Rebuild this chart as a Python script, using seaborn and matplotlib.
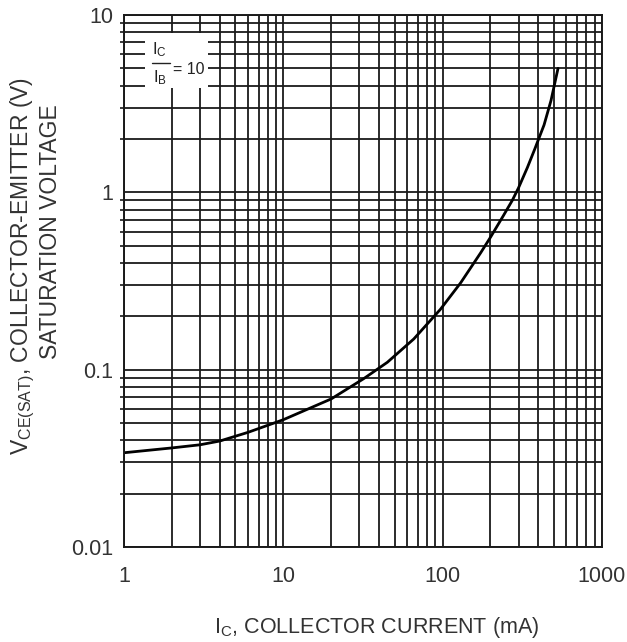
import matplotlib
matplotlib.use("Agg")
import matplotlib.pyplot as plt
import seaborn as sns

# collector current (mA) and Vce(sat) (V)
ic_ma = [1, 2, 3, 4, 6, 10, 20, 32, 45, 66, 97, 130, 173, 200, 240, 274,
         300, 341, 380, 434, 480, 531]
vce_sat = [0.034, 0.0362, 0.0377, 0.0396, 0.0443, 0.0522, 0.0684, 0.089, 0.11,
           0.149, 0.219, 0.309, 0.454, 0.558, 0.734, 0.90, 1.06, 1.38, 1.76,
           2.40, 3.3, 5.0]

x_ticks = [1, 10, 100, 1000]
x_labels = ["1", "10", "100", "1000"]
y_ticks = [0.01, 0.1, 1, 10]
y_labels = ["0.01", "0.1", "1", "10"]

sns.set_style("white")
plt.rcParams['font.family'] = ['Liberation Sans', 'DejaVu Sans']
plt.rcParams['mathtext.fontset'] = 'custom'
plt.rcParams['mathtext.rm'] = 'Liberation Sans'

fig = plt.figure(figsize=(6.27, 6.42), dpi=100)
ax = fig.add_axes([0.1978, 0.148, 0.762, 0.8286])

grid_kw = dict(color="#1a1a1a", linewidth=1.3)
ax.set_xscale("log")
ax.set_yscale("log")
ax.set_xlim(1, 1000)
ax.set_ylim(0.01, 10)
ax.grid(True, which="both", **grid_kw)

sns.lineplot(x=ic_ma, y=vce_sat, color="black", linewidth=2.0, ax=ax)

ax.set_xticks(x_ticks)
ax.set_xticklabels(x_labels)
ax.set_yticks(y_ticks)
ax.set_yticklabels(y_labels)
ax.tick_params(axis="both", which="major", labelsize=15.5, length=0, colors="#333333")
ax.tick_params(axis="x", which="major", pad=14)
ax.tick_params(axis="y", which="major", pad=8)
ax.tick_params(axis="x", which="minor", length=0)
ax.tick_params(axis="y", which="minor", length=3, width=1.2, direction="out",
               left=True, color="#1a1a1a")
ax.yaxis.set_minor_formatter(plt.NullFormatter())
ax.xaxis.set_minor_formatter(plt.NullFormatter())

for s in ax.spines.values():
    s.set_color("#1a1a1a")
    s.set_linewidth(1.4)

# Ic/Ib = 10 box
box = plt.Rectangle((0.044, 0.863), 0.132, 0.103, transform=ax.transAxes,
                    facecolor="white", edgecolor="none", zorder=3)
ax.add_patch(box)
ax.text(0.075, 0.934, r"$\mathregular{I_C}$", transform=ax.transAxes, fontsize=12,
        ha="center", va="center", zorder=4, color="#222222")
ax.text(0.075, 0.882, r"$\mathregular{I_B}$", transform=ax.transAxes, fontsize=12,
        ha="center", va="center", zorder=4, color="#222222")
ax.plot([0.058, 0.097], [0.910, 0.910], transform=ax.transAxes, color="#222222",
        linewidth=1.0, zorder=4)
ax.text(0.102, 0.898, "= 10", transform=ax.transAxes, fontsize=11.5,
        ha="left", va="center", zorder=4, color="#222222")

ax.set_xlabel("")
ax.set_ylabel("")
fig.text(0.601, 0.023, r"$\mathregular{I_C}$, COLLECTOR CURRENT (mA)", fontsize=15.5,
         ha="center", va="center", color="#333333")
fig.text(0.036, 0.586, r"$\mathregular{V_{CE(SAT)}}$, COLLECTOR-EMITTER (V)", fontsize=16.5,
         rotation=90, ha="center", va="center", color="#333333")
fig.text(0.080, 0.639, "SATURATION VOLTAGE", fontsize=16.5,
         rotation=90, ha="center", va="center", color="#333333")

fig.savefig("out.png", dpi=100, facecolor="white")
